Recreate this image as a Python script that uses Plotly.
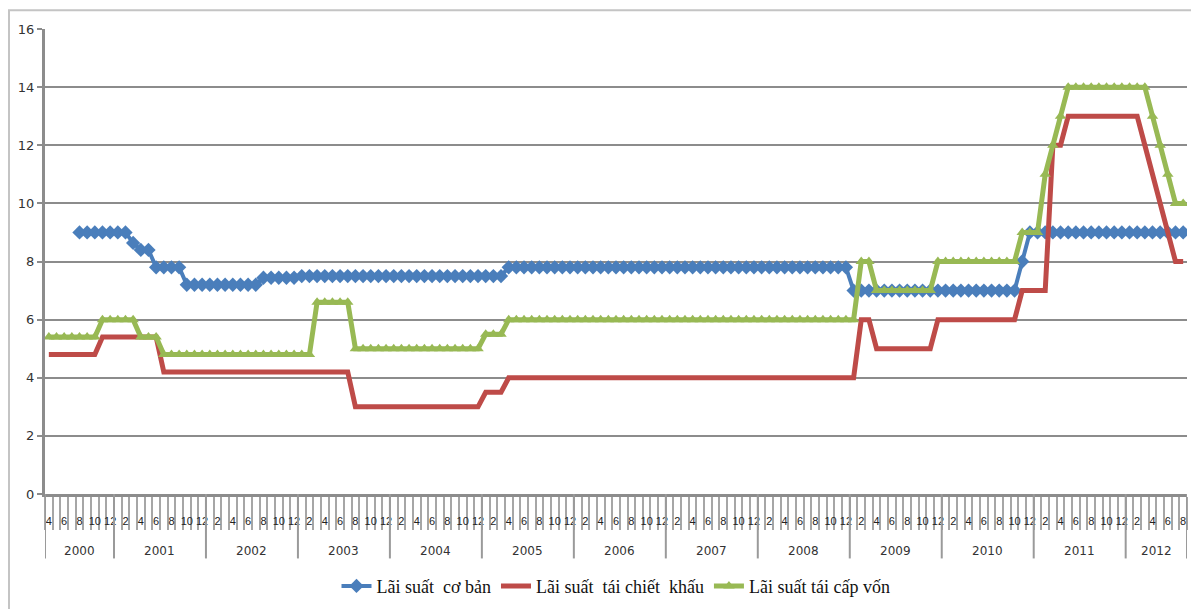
import plotly.graph_objects as go

# ---------------- categories ----------------
years = ["2000", "2001", "2002", "2003", "2004", "2005", "2006",
         "2007", "2008", "2009", "2010", "2011", "2012"]
full_year = [1, 2, 3, 4, 5, 6, 7, 8, 9, 10, 11, 12]
months_in_year = ([[4, 5, 6, 7, 8, 9, 10, 11, 12]] + [full_year] * 11
                  + [[1, 2, 3, 4, 5, 6, 7, 8]])

# ---------------- series values (% per year), one list per year ----------------
basic_rate = [  # Lãi suất cơ bản
    [None, None, None, None, 9.0, 9.0, 9.0, 9.0, 9.0],
    [9.0, 9.0, 8.64, 8.4, 8.4, 7.8, 7.8, 7.8, 7.8, 7.2, 7.2, 7.2],
    [7.2, 7.2, 7.2, 7.2, 7.2, 7.2, 7.2, 7.44, 7.44, 7.44, 7.44, 7.44],
    [7.5, 7.5, 7.5, 7.5, 7.5, 7.5, 7.5, 7.5, 7.5, 7.5, 7.5, 7.5],
    [7.5, 7.5, 7.5, 7.5, 7.5, 7.5, 7.5, 7.5, 7.5, 7.5, 7.5, 7.5],
    [7.5, 7.5, 7.5, 7.8, 7.8, 7.8, 7.8, 7.8, 7.8, 7.8, 7.8, 7.8],
    [7.8, 7.8, 7.8, 7.8, 7.8, 7.8, 7.8, 7.8, 7.8, 7.8, 7.8, 7.8],
    [7.8, 7.8, 7.8, 7.8, 7.8, 7.8, 7.8, 7.8, 7.8, 7.8, 7.8, 7.8],
    [7.8, 7.8, 7.8, 7.8, 7.8, 7.8, 7.8, 7.8, 7.8, 7.8, 7.8, 7.8],
    [7.0, 7.0, 7.0, 7.0, 7.0, 7.0, 7.0, 7.0, 7.0, 7.0, 7.0, 7.0],
    [7.0, 7.0, 7.0, 7.0, 7.0, 7.0, 7.0, 7.0, 7.0, 7.0, 8.0, 9.0],
    [9.0, 9.0, 9.0, 9.0, 9.0, 9.0, 9.0, 9.0, 9.0, 9.0, 9.0, 9.0],
    [9.0, 9.0, 9.0, 9.0, 9.0, 9.0, 9.0, 9.0],
]
discount_rate = [  # Lãi suất tái chiết khấu
    [4.8, 4.8, 4.8, 4.8, 4.8, 4.8, 4.8, 5.4, 5.4],
    [5.4, 5.4, 5.4, 5.4, 5.4, 5.4, 4.2, 4.2, 4.2, 4.2, 4.2, 4.2],
    [4.2, 4.2, 4.2, 4.2, 4.2, 4.2, 4.2, 4.2, 4.2, 4.2, 4.2, 4.2],
    [4.2, 4.2, 4.2, 4.2, 4.2, 4.2, 4.2, 3.0, 3.0, 3.0, 3.0, 3.0],
    [3.0, 3.0, 3.0, 3.0, 3.0, 3.0, 3.0, 3.0, 3.0, 3.0, 3.0, 3.0],
    [3.5, 3.5, 3.5, 4.0, 4.0, 4.0, 4.0, 4.0, 4.0, 4.0, 4.0, 4.0],
    [4.0, 4.0, 4.0, 4.0, 4.0, 4.0, 4.0, 4.0, 4.0, 4.0, 4.0, 4.0],
    [4.0, 4.0, 4.0, 4.0, 4.0, 4.0, 4.0, 4.0, 4.0, 4.0, 4.0, 4.0],
    [4.0, 4.0, 4.0, 4.0, 4.0, 4.0, 4.0, 4.0, 4.0, 4.0, 4.0, 4.0],
    [4.0, 6.0, 6.0, 5.0, 5.0, 5.0, 5.0, 5.0, 5.0, 5.0, 5.0, 6.0],
    [6.0, 6.0, 6.0, 6.0, 6.0, 6.0, 6.0, 6.0, 6.0, 6.0, 7.0, 7.0],
    [7.0, 7.0, 12.0, 12.0, 13.0, 13.0, 13.0, 13.0, 13.0, 13.0, 13.0, 13.0],
    [13.0, 13.0, 12.0, 11.0, 10.0, 9.0, 8.0, 8.0],
]
refinance_rate = [  # Lãi suất tái cấp vốn
    [5.4, 5.4, 5.4, 5.4, 5.4, 5.4, 5.4, 6.0, 6.0],
    [6.0, 6.0, 6.0, 5.4, 5.4, 5.4, 4.8, 4.8, 4.8, 4.8, 4.8, 4.8],
    [4.8, 4.8, 4.8, 4.8, 4.8, 4.8, 4.8, 4.8, 4.8, 4.8, 4.8, 4.8],
    [4.8, 4.8, 6.6, 6.6, 6.6, 6.6, 6.6, 5.0, 5.0, 5.0, 5.0, 5.0],
    [5.0, 5.0, 5.0, 5.0, 5.0, 5.0, 5.0, 5.0, 5.0, 5.0, 5.0, 5.0],
    [5.5, 5.5, 5.5, 6.0, 6.0, 6.0, 6.0, 6.0, 6.0, 6.0, 6.0, 6.0],
    [6.0, 6.0, 6.0, 6.0, 6.0, 6.0, 6.0, 6.0, 6.0, 6.0, 6.0, 6.0],
    [6.0, 6.0, 6.0, 6.0, 6.0, 6.0, 6.0, 6.0, 6.0, 6.0, 6.0, 6.0],
    [6.0, 6.0, 6.0, 6.0, 6.0, 6.0, 6.0, 6.0, 6.0, 6.0, 6.0, 6.0],
    [6.0, 8.0, 8.0, 7.0, 7.0, 7.0, 7.0, 7.0, 7.0, 7.0, 7.0, 8.0],
    [8.0, 8.0, 8.0, 8.0, 8.0, 8.0, 8.0, 8.0, 8.0, 8.0, 9.0, 9.0],
    [9.0, 11.0, 12.0, 13.0, 14.0, 14.0, 14.0, 14.0, 14.0, 14.0, 14.0, 14.0],
    [14.0, 14.0, 14.0, 13.0, 12.0, 11.0, 10.0, 10.0],
]

series_names = ["Lãi suất  cơ bản", "Lãi suất  tái chiết  khấu", "Lãi suất tái cấp vốn"]
y_ticks = [0, 2, 4, 6, 8, 10, 12, 14, 16]

# ---------------- build flat category axis ----------------
def flat(lists):
    return [v for sub in lists for v in sub]

cat_month = flat(months_in_year)
xi = list(range(len(cat_month)))
N = len(xi)

fig = go.Figure()
fig.add_trace(go.Scatter(
    x=xi, y=flat(basic_rate), name=series_names[0], mode="lines+markers",
    line=dict(color="#4A7EBB", width=4),
    marker=dict(symbol="diamond", size=11, color="#4A7EBB"),
))
fig.add_trace(go.Scatter(
    x=xi, y=flat(discount_rate), name=series_names[1], mode="lines",
    line=dict(color="#BE4B48", width=5),
))
fig.add_trace(go.Scatter(
    x=xi, y=flat(refinance_rate), name=series_names[2], mode="lines+markers",
    line=dict(color="#98B954", width=5),
    marker=dict(symbol="triangle-up", size=10, color="#98B954"),
))

# month tick labels (every other category, Excel style)
tickvals = [i for i in xi if i % 2 == 0]
ticktext = [str(cat_month[i]) for i in tickvals]

plot_h = 609 - 29 - 111

# year group dividers and labels
shapes = []
annotations = []
start = 0
for y, m in zip(years, months_in_year):
    end = start + len(m) - 1
    annotations.append(dict(
        x=(start + end) / 2, y=-(555 - 498) / plot_h, xref="x", yref="paper",
        text=y, showarrow=False, yanchor="middle",
        font=dict(family="DejaVu Sans", size=12, color="#333333")))
    shapes.append(dict(type="line", xref="x", yref="paper",
                       x0=start - 0.5, x1=start - 0.5, y0=0, y1=-(563 - 498) / plot_h,
                       line=dict(color="#9a9a9a", width=2)))
    start = end + 1
shapes.append(dict(type="line", xref="x", yref="paper",
                   x0=N - 0.5, x1=N - 0.5, y0=0, y1=-(563 - 498) / plot_h,
                   line=dict(color="#9a9a9a", width=2)))
# outer chart frame
shapes.append(dict(type="rect", xref="paper", yref="paper",
                   x0=(9 - 45) / 1142, x1=1.05, y0=1 + (29 - 10) / plot_h, y1=-0.4,
                   line=dict(color="#c4c4c4", width=2), fillcolor="rgba(0,0,0,0)",
                   layer="below"))

fig.update_layout(
    width=1191, height=609,
    margin=dict(l=45, r=4, t=29, b=111),
    paper_bgcolor="white", plot_bgcolor="white",
    shapes=shapes, annotations=annotations,
    showlegend=True,
    legend=dict(orientation="h", x=0.5, xanchor="center",
                y=-(591 - 498) / plot_h, yanchor="middle",
                font=dict(family="Liberation Serif", size=18, color="#111111"),
                bgcolor="rgba(0,0,0,0)"),
    xaxis=dict(
        range=[-0.5, N - 0.5], showgrid=False, zeroline=False,
        showline=True, linecolor="#8c8c8c", linewidth=3,
        tickmode="array", tickvals=tickvals, ticktext=ticktext,
        ticks="outside", ticklen=15, tickcolor="rgba(0,0,0,0)",
        tickfont=dict(family="Liberation Sans Narrow, Liberation Sans", size=11, color="#222222"),
        tickangle=0,
        minor=dict(tickmode="linear", tick0=-0.5, dtick=1, ticks="outside",
                   ticklen=33, tickcolor="#a6a6a6", tickwidth=1.5, showgrid=False),
    ),
    yaxis=dict(
        range=[0, 16], tickmode="array", tickvals=y_ticks,
        showgrid=True, gridcolor="#8c8c8c", gridwidth=2,
        zeroline=False, showline=True, linecolor="#8c8c8c", linewidth=3,
        ticks="outside", ticklen=5, tickcolor="#8c8c8c", tickwidth=2,
        tickfont=dict(family="DejaVu Sans", size=13, color="#333333"),
    ),
)

fig.write_html("out.html")
